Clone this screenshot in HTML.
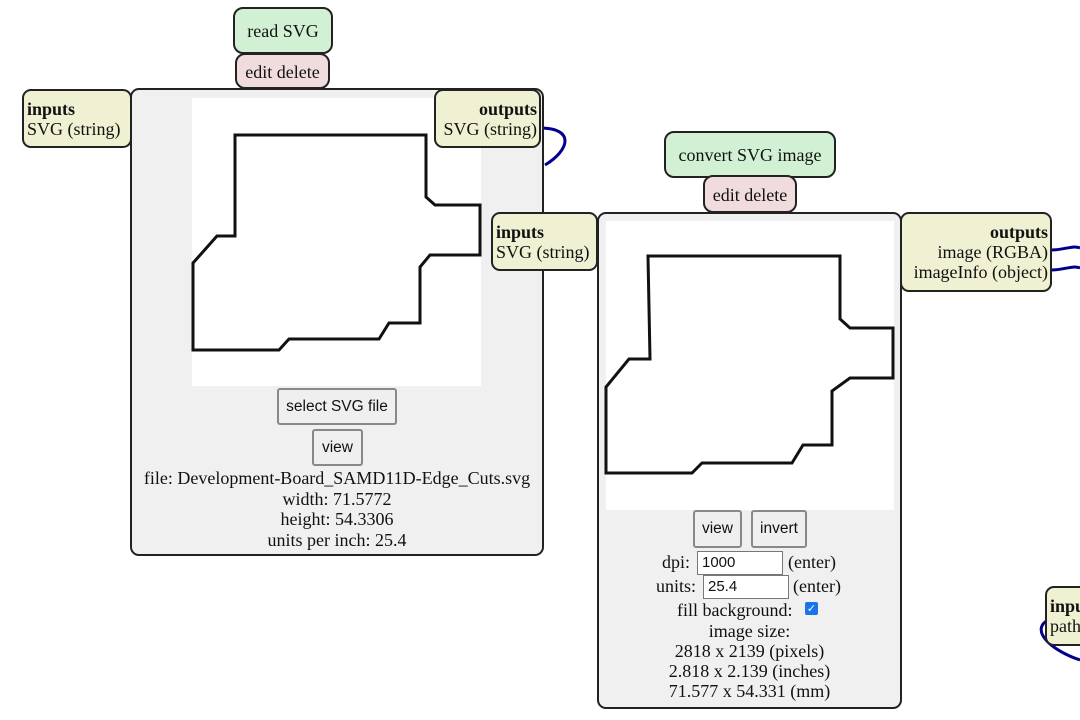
<!DOCTYPE html>
<html><head><meta charset="utf-8"><style>
body{margin:0;width:1080px;height:720px;position:relative;overflow:hidden;background:#fff;font-family:"Liberation Serif",serif;font-size:18px;color:#111}
.a{position:absolute;box-sizing:border-box}
.box{border:2px solid #222;border-radius:9px;background:#f0f0f0}
.t{border:2px solid #222;border-radius:10px;background:#d2f0d4;text-align:center}
.e{border:2px solid #222;border-radius:10px;background:#f0dcdc;text-align:center}
.io{border:2px solid #222;border-radius:9px;background:#f0f0d2;line-height:20px;padding:8px 2px 0 3px;white-space:nowrap;overflow:hidden}
.btn{border:2px solid #888;border-radius:3px;background:#efefef;font-family:"Liberation Sans",sans-serif;font-size:15.5px;text-align:center}
.c{text-align:center;white-space:nowrap}
.in{border:1px solid #777;background:#fff;font-family:"Liberation Sans",sans-serif;font-size:15px;padding-left:4px;line-height:22px}
</style></head><body>
<svg class="a" style="left:0;top:0" width="1080" height="720">
<path d="M540,128 C575,128 570,150 545,165" stroke="#00008b" stroke-width="3" fill="none"/>
<path d="M1051,250 C1065,250 1072,245 1080,248" stroke="#00008b" stroke-width="3" fill="none"/>
<path d="M1051,270 C1065,270 1072,265 1080,268" stroke="#00008b" stroke-width="3" fill="none"/>
<path d="M1048,620 C1030,630 1050,650 1080,660" stroke="#00008b" stroke-width="3" fill="none"/>
</svg>

<!-- node 1 -->
<div class="a box" style="left:130px;top:88px;width:414px;height:468px"></div>
<div class="a" style="left:192px;top:98px;width:289px;height:288px;background:#fff"></div>
<svg class="a" style="left:0;top:0" width="560" height="400"><path d="M235,135 H426 V197 L435,205 H480 V255 H430 L420,267 V323 H389 L379,339 H289 L279,350 H193 V263 L217,236 H235 Z" fill="none" stroke="#111" stroke-width="3"/></svg>
<div class="a t" style="left:233px;top:7px;width:100px;height:47px;line-height:44px">read SVG</div>
<div class="a e" style="left:235px;top:53px;width:95px;height:36px;line-height:34px">edit delete</div>
<div class="a io" style="left:22px;top:89px;width:110px;height:59px"><b>inputs</b><br>SVG (string)</div>
<div class="a io" style="left:434px;top:89px;width:107px;height:59px;text-align:right"><b>outputs</b><br>SVG (string)</div>
<div class="a btn" style="left:277px;top:388px;width:120px;height:37px;line-height:33px">select SVG file</div>
<div class="a btn" style="left:312px;top:429px;width:51px;height:37px;line-height:33px">view</div>
<div class="a c" style="left:130px;width:414px;top:468px;line-height:20.5px">file: Development-Board_SAMD11D-Edge_Cuts.svg<br>width: 71.5772<br>height: 54.3306<br>units per inch: 25.4</div>

<!-- node 2 -->
<div class="a box" style="left:597px;top:212px;width:305px;height:497px"></div>
<div class="a" style="left:606px;top:221px;width:288px;height:289px;background:#fff"></div>
<svg class="a" style="left:0;top:0" width="1080" height="720"><path d="M648,256 H840 V319 L850,328 H893 V378 H850 L832,391 V445 H803 L792,463 H702 L692,473 H606 V387 L629,359 H650 Z" fill="none" stroke="#111" stroke-width="3"/></svg>
<div class="a t" style="left:664px;top:131px;width:172px;height:47px;line-height:44px">convert SVG image</div>
<div class="a e" style="left:703px;top:175px;width:94px;height:38px;line-height:36px">edit delete</div>
<div class="a io" style="left:491px;top:212px;width:107px;height:59px"><b>inputs</b><br>SVG (string)</div>
<div class="a io" style="left:900px;top:212px;width:152px;height:80px;text-align:right"><b>outputs</b><br>image (RGBA)<br>imageInfo (object)</div>
<div class="a btn" style="left:693px;top:510px;width:49px;height:38px;line-height:34px">view</div>
<div class="a btn" style="left:751px;top:510px;width:56px;height:38px;line-height:34px">invert</div>
<div class="a" style="left:662px;top:552px;line-height:20px">dpi:</div>
<div class="a in" style="left:697px;top:551px;width:86px;height:24px">1000</div>
<div class="a" style="left:788px;top:552px;line-height:20px">(enter)</div>
<div class="a" style="left:656px;top:576px;line-height:20px">units:</div>
<div class="a in" style="left:703px;top:575px;width:86px;height:24px">25.4</div>
<div class="a" style="left:793px;top:576px;line-height:20px">(enter)</div>
<div class="a" style="left:677px;top:600px;line-height:20px">fill background:</div>
<div class="a" style="left:805px;top:602px;width:13px;height:13px;background:#1a73e8;border-radius:2px;color:#fff;font-size:11px;line-height:13px;text-align:center;font-family:'DejaVu Sans',sans-serif">✓</div>
<div class="a c" style="left:597px;width:305px;top:621px;line-height:20px">image size:<br>2818 x 2139 (pixels)<br>2.818 x 2.139 (inches)<br>71.577 x 54.331 (mm)</div>

<!-- node 3 partial -->
<div class="a io" style="left:1045px;top:586px;width:60px;height:60px"><b>inputs</b><br>path</div>
</body></html>
